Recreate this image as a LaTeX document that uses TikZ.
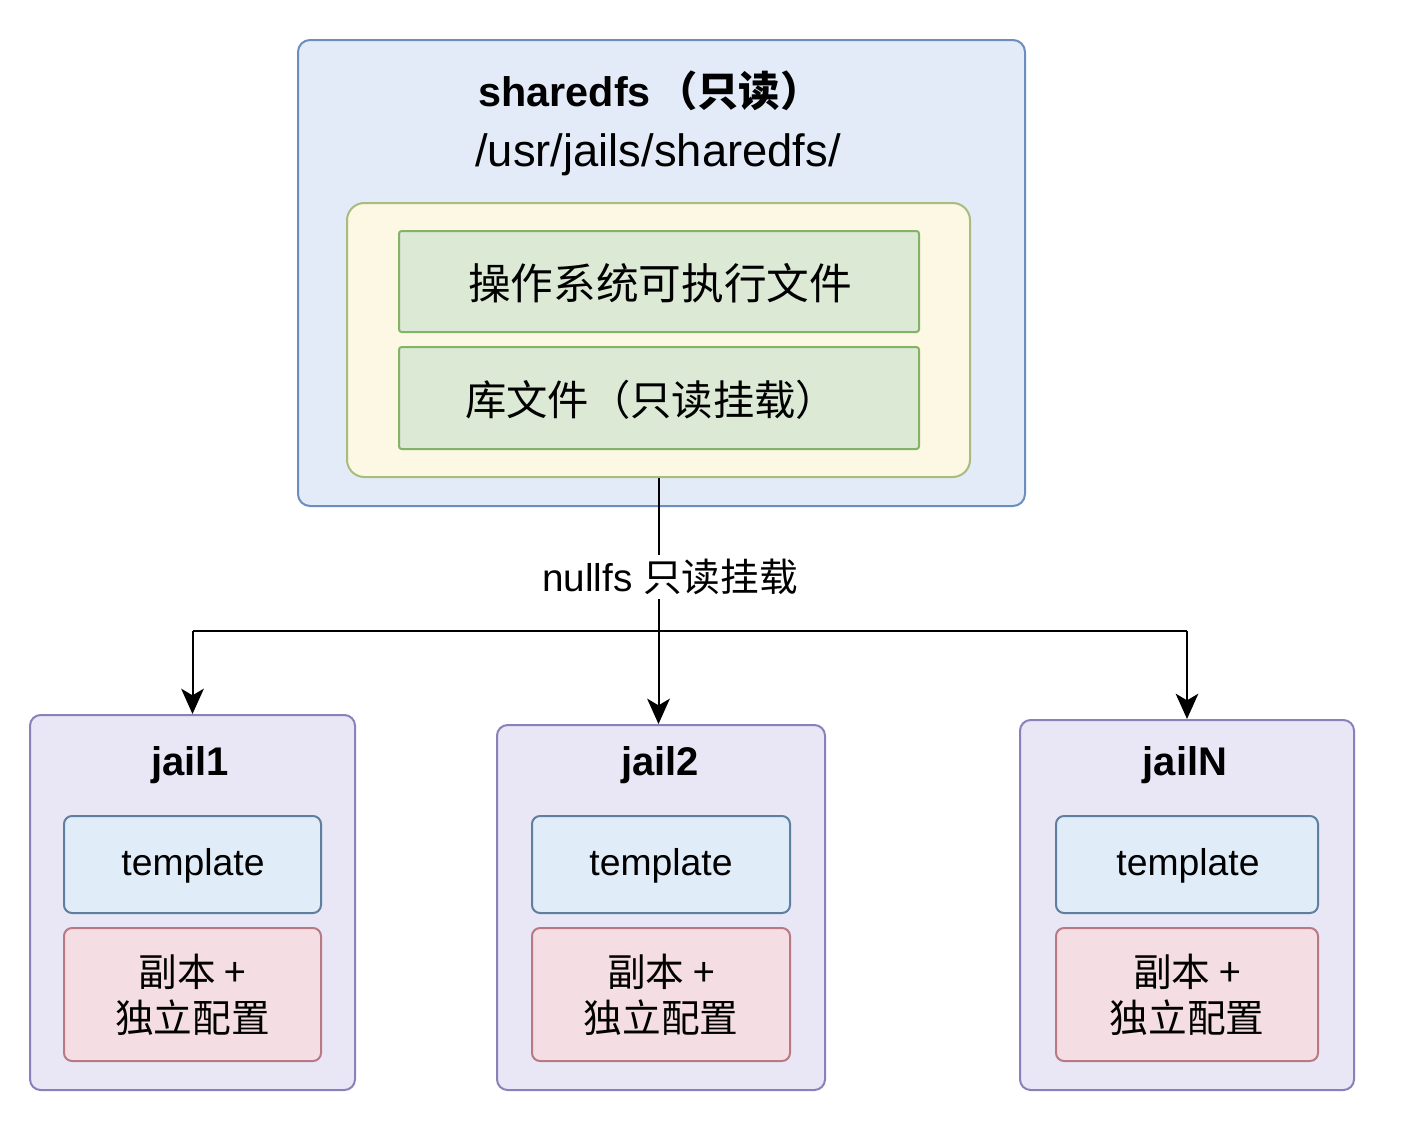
\documentclass[tikz,border=0pt]{standalone}
\usepackage{fontspec}
\setmainfont{Liberation Sans}
\newfontfamily\cjk{Noto Sans CJK SC}
\usetikzlibrary{fit,arrows.meta}
\definecolor{sfill}{HTML}{E3EBF9}
\definecolor{sdraw}{HTML}{6C8EBF}
\definecolor{yfill}{HTML}{FCF8E3}
\definecolor{ydraw}{HTML}{A8BC7E}
\definecolor{gfill}{HTML}{DBE9D5}
\definecolor{gdraw}{HTML}{82B366}
\definecolor{jfill}{HTML}{E9E6F5}
\definecolor{jdraw}{HTML}{8B80B9}
\definecolor{tfill}{HTML}{E1ECF9}
\definecolor{tdraw}{HTML}{5F7F9E}
\definecolor{pfill}{HTML}{F4DDE3}
\definecolor{pdraw}{HTML}{B77A85}
\begin{document}
\begin{tikzpicture}[x=0.75pt,y=-0.75pt,
  frame/.style={inner sep=0pt, line width=1.5pt},
  sharedbox/.style={frame, fill=sfill, draw=sdraw, rounded corners=9pt},
  yellowbox/.style={frame, fill=yfill, draw=ydraw, rounded corners=13pt},
  greenbox/.style={frame, fill=gfill, draw=gdraw, rounded corners=2pt},
  greentext/.style={font=\cjk\fontsize{32}{38}\selectfont},
  jailbox/.style={frame, fill=jfill, draw=jdraw, rounded corners=8pt},
  tmplbox/.style={frame, fill=tfill, draw=tdraw, rounded corners=6pt},
  tmpltext/.style={font=\fontsize{28}{34}\selectfont},
  copybox/.style={frame, fill=pfill, draw=pdraw, rounded corners=6pt},
  copytext/.style={align=center, font=\cjk\fontsize{29}{34.5}\selectfont},
  jailtitle/.style={font=\bfseries\fontsize{30}{36}\selectfont},
  arr/.style={line width=1.5pt, -{Stealth[length=19pt, width=17pt, inset=5pt]}},
  conn/.style={line width=1.5pt}
]
\useasboundingbox (0,0) rectangle (1402,1122);
\fill[white] (0,0) rectangle (1402,1122);

% shared fs
\node[sharedbox, fit={(298,40) (1025,506)}] (shared) {};
\node[font=\fontsize{31}{37}\selectfont] (stitle) at (650,91) {\textbf{sharedfs}\hspace{4pt}{\cjk\bfseries （只读）}};
\node[font=\fontsize{34}{40}\selectfont] (spath) at (658,155) {/usr/jails/sharedfs/};
\node[yellowbox, fit={(347,203) (970,477)}] (yellow) {};
\node[greenbox, fit={(399,231) (919,332)}] (osbin) {};
\node[greentext] (osbintxt) at (660,283) {操作系统可执行文件};
\node[greenbox, fit={(399,347) (919,449)}] (libs) {};
\node[greentext, font=\cjk\fontsize{31}{37}\selectfont] (libstxt) at (651,400) {库文件（只读挂载）};

% jails
\node[jailbox, fit={(30,715) (355,1090)}] (jail1) {};
\node[jailbox, fit={(497,725) (825,1090)}] (jail2) {};
\node[jailbox, fit={(1020,720) (1354,1090)}] (jailN) {};

\node[jailtitle] (t1) at (190,765) {jail1};
\node[jailtitle] (t2) at (660,765) {jail2};
\node[jailtitle] (tN) at (1185,765) {jailN};

\node[tmplbox, fit={(64,816) (321,913)}] (tp1) {};
\node[tmplbox, fit={(532,816) (790,913)}] (tp2) {};
\node[tmplbox, fit={(1056,816) (1318,913)}] (tpN) {};
\node[tmpltext] (tp1txt) at (193,866) {template};
\node[tmpltext] (tp2txt) at (661,866) {template};
\node[tmpltext] (tpNtxt) at (1188,866) {template};

\node[copybox, fit={(64,928) (321,1061)}] (cp1) {};
\node[copybox, fit={(532,928) (790,1061)}] (cp2) {};
\node[copybox, fit={(1056,928) (1318,1061)}] (cpN) {};
\node[copytext] (cp1txt) at (cp1.center) {副本 +\\独立配置};
\node[copytext] (cp2txt) at (cp2.center) {副本 +\\独立配置};
\node[copytext] (cpNtxt) at (cpN.center) {副本 +\\独立配置};

% connectors
\coordinate (split) at (yellow.south |- 0,631);
\draw[arr] (yellow.south) -- (yellow.south |- jail2.north);
\draw[conn] (split) -- (split -| jail1.north);
\draw[conn] (split) -- (split -| jailN.north);
\draw[arr] (split -| jail1.north) -- (jail1.north);
\draw[arr] (split -| jailN.north) -- (jailN.north);
\node[fill=white, inner sep=3pt, font=\fontsize{29}{35}\selectfont] (lbl) at (670,577) {nullfs {\cjk 只读挂载}};
\end{tikzpicture}
\end{document}
